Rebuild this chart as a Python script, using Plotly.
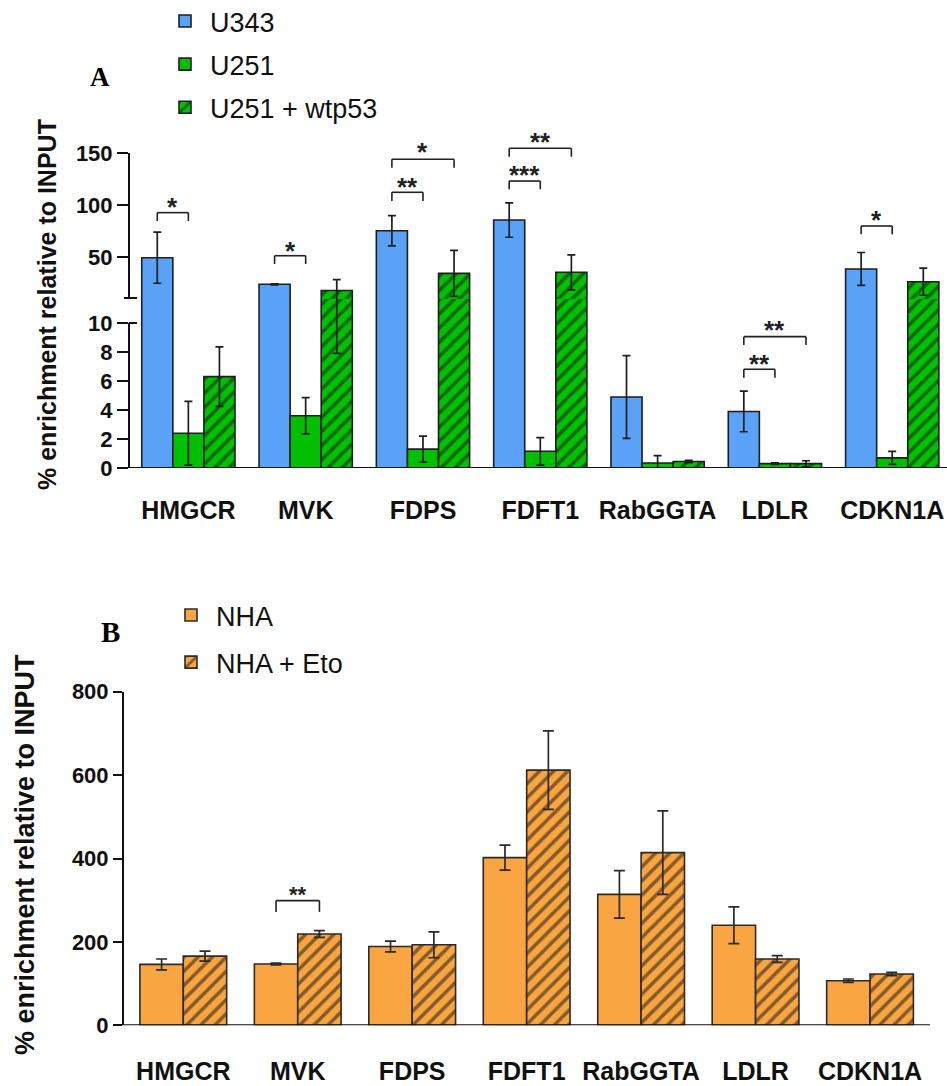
import plotly.graph_objects as go

# ---------------- data ----------------
genes = ["HMGCR", "MVK", "FDPS", "FDFT1", "RabGGTA", "LDLR", "CDKN1A"]

# Panel A (% enrichment relative to INPUT)
u343 = [49.6, 24.1, 75.5, 85.7, 4.9, 3.9, 38.8]
u343_err = [24.5, 0.5, 14.5, 16.5, 2.85, 1.4, 15.8]
u251 = [2.4, 3.6, 1.3, 1.15, 0.35, 0.3, 0.7]
u251_err = [2.2, 1.25, 0.9, 0.95, 0.5, 0.05, 0.45]
wtp53 = [6.3, 18.2, 34.6, 35.6, 0.45, 0.3, 26.6]
wtp53_err = [2.05, 10.3, 22.0, 16.8, 0.08, 0.2, 13.0]

# Panel B
nha = [146, 147, 189, 402, 314, 240, 107]
nha_err = [13, 2, 13, 30, 57, 44, 4]
eto = [166, 219, 193, 612, 414, 159, 123]
eto_err = [12, 8, 31, 94, 100, 8, 4]

# significance brackets: (gene index, from bar, to bar, top, leg end, label, label y, axis)
sig_a = [
    (0, 0, 1, 92.8, 84.8, "*", 102.0, "y"),
    (1, 0, 1, 51.5, 43.6, "*", 60.1, "y"),
    (2, 0, 1, 112.3, 104.0, "**", 121.0, "y"),
    (2, 0, 2, 144.0, 135.9, "*", 154.5, "y"),
    (3, 0, 1, 123.1, 115.2, "***", 132.7, "y"),
    (3, 0, 2, 154.5, 146.4, "**", 164.0, "y"),
    (5, 0, 1, 6.81, 6.23, "**", 7.45, "y2"),
    (5, 0, 2, 9.06, 8.48, "**", 9.81, "y2"),
    (6, 0, 1, 80.0, 72.0, "*", 89.6, "y"),
]
sig_b = [
    (1, 0, 1, 299, 272, "**", 324, "y3"),
]

# ---------------- styling ----------------
W, H = 947, 1086
def px_x(p):
    return p / W
def px_y(p):
    return 1 - p / H

FONT = "Liberation Sans, Arial, sans-serif"
BLUE = "#5aa2f8"
GREEN = "#00c000"
ORANGE = "#f9a541"
EDGE = "#1e1e1e"

wA = 0.265
wB = 0.379

fig = go.Figure()

def hatch():
    return dict(shape="/", fillmode="overlay", fgcolor="#111111", size=10, solidity=0.35)

seriesA = [
    ("U343", u343, u343_err, BLUE, None),
    ("U251", u251, u251_err, GREEN, None),
    ("U251 + wtp53", wtp53, wtp53_err, GREEN, hatch()),
]
for k, (name, vals, errs, col, pat) in enumerate(seriesA):
    for (xa, ya, show) in [("x", "y2", True), ("x2", "y", False)]:
        marker = dict(color=col, line=dict(color=EDGE, width=1.6))
        if pat:
            marker["pattern"] = pat
        fig.add_trace(go.Bar(
            x=genes, y=vals, name=name, xaxis=xa, yaxis=ya,
            width=wA, offset=(k - 1.5) * wA,
            marker=marker,
            error_y=dict(type="data", array=errs, visible=True, color=EDGE,
                         thickness=1.7, width=4),
            showlegend=show, legend="legend", legendgroup=name,
        ))

seriesB = [
    ("NHA", nha, nha_err, ORANGE, None),
    ("NHA + Eto", eto, eto_err, ORANGE, hatch()),
]
for k, (name, vals, errs, col, pat) in enumerate(seriesB):
    marker = dict(color=col, line=dict(color="#2a2a2a", width=1.6))
    if pat:
        marker["pattern"] = pat
    fig.add_trace(go.Bar(
        x=genes, y=vals, name=name, xaxis="x3", yaxis="y3",
        width=wB, offset=(k - 1.0) * wB,
        marker=marker,
        error_y=dict(type="data", array=errs, visible=True, color="#2a2a2a",
                     thickness=1.7, width=5.5),
        legend="legend2", legendgroup=name,
    ))

tickfont = dict(family=FONT, size=22, color="#111", weight="bold")
xtickfont = dict(family=FONT, size=25, color="#111", weight="bold")

common_y = dict(showgrid=False, zeroline=False, ticks="outside", tickwidth=2,
                tickcolor="#111", tickfont=tickfont, showline=False, fixedrange=True,
                automargin=False)
common_x = dict(showgrid=False, zeroline=False, showline=False, ticks="",
                tickfont=xtickfont, automargin=False, fixedrange=True)

fig.update_layout(
    template="none",
    width=W, height=H, margin=dict(l=0, r=0, t=0, b=0, pad=0, autoexpand=False),
    paper_bgcolor="white", plot_bgcolor="rgba(0,0,0,0)",
    barmode="overlay",
    font=dict(family=FONT, color="#111"),
    xaxis=dict(domain=[px_x(129), 1.0], range=[-0.506, 6.467], anchor="y2",
               ticklabelstandoff=25, **common_x),
    xaxis2=dict(domain=[px_x(129), 1.0], range=[-0.506, 6.467], anchor="y",
                visible=False, automargin=False),
    yaxis2=dict(domain=[px_y(468), px_y(299)], range=[0, (468 - 299) / 14.5],
                tickvals=[0, 2, 4, 6, 8, 10], ticklen=11, anchor="x", **common_y),
    yaxis=dict(domain=[px_y(299), px_y(120)], range=[10, 10 + 179 / 1.043],
               tickvals=[50, 100, 150], ticklen=11, anchor="x2", **common_y),
    xaxis3=dict(domain=[px_x(124), px_x(930)], range=[-0.518, 6.524], anchor="y3",
                ticklabelstandoff=29, **common_x),
    yaxis3=dict(domain=[px_y(1025.3), px_y(691.7)], range=[0, 800],
                tickvals=[0, 200, 400, 600, 800], ticklen=9, anchor="x3",
                **{**common_y, "showline": True, "linewidth": 2, "linecolor": "#111"}),
    legend=dict(x=px_x(160), y=px_y(-3), xanchor="left", yanchor="top",
                font=dict(family=FONT, size=27, color="#111"),
                bgcolor="rgba(0,0,0,0)", traceorder="grouped", tracegroupgap=5,
                itemwidth=40),
    legend2=dict(x=px_x(166), y=px_y(591), xanchor="left", yanchor="top",
                 font=dict(family=FONT, size=27, color="#111"),
                 bgcolor="rgba(0,0,0,0)", traceorder="grouped", tracegroupgap=9,
                 itemwidth=40),
)

shapes = []
LW = 2
# Panel A axis lines (broken axis)
shapes.append(dict(type="line", xref="paper", yref="y2", x0=px_x(129), x1=px_x(129),
                   y0=0, y1=10, line=dict(color="#111", width=LW)))
shapes.append(dict(type="line", xref="paper", yref="y", x0=px_x(129), x1=px_x(129),
                   y0=10.96, y1=150, line=dict(color="#111", width=LW)))
shapes.append(dict(type="line", xref="paper", yref="y2", x0=px_x(129), x1=px_x(137),
                   y0=10, y1=10, line=dict(color="#111", width=LW)))
shapes.append(dict(type="line", xref="paper", yref="y", x0=px_x(124), x1=px_x(137),
                   y0=10.96, y1=10.96, line=dict(color="#111", width=LW)))
shapes.append(dict(type="line", xref="paper", yref="y2", x0=px_x(118), x1=1.0,
                   y0=0, y1=0, line=dict(color="#111", width=LW)))
# Panel B baseline
shapes.append(dict(type="line", xref="paper", yref="y3", x0=px_x(115), x1=px_x(930),
                   y0=0, y1=0, line=dict(color="#111", width=LW)))

annotations = []
def add_brackets(sigs, xref, w, nbars, size):
    for gi, b0, b1, top, leg, lab, ty, yref in sigs:
        xa = gi + (b0 - (nbars - 1) / 2) * w
        xb = gi + (b1 - (nbars - 1) / 2) * w
        lc = dict(color="#222", width=1.6)
        shapes.append(dict(type="line", xref=xref, yref=yref, x0=xa, x1=xb, y0=top, y1=top, line=lc))
        shapes.append(dict(type="line", xref=xref, yref=yref, x0=xa, x1=xa, y0=top, y1=leg, line=lc))
        shapes.append(dict(type="line", xref=xref, yref=yref, x0=xb, x1=xb, y0=top, y1=leg, line=lc))
        annotations.append(dict(x=(xa + xb) / 2, y=ty, xref=xref, yref=yref, text=lab,
                                showarrow=False, xanchor="center", yanchor="middle", yshift=-4,
                                font=dict(family=FONT, size=size, color="#222", weight="bold")))

add_brackets(sig_a, "x", wA, 3, 26)
add_brackets(sig_b, "x3", wB, 2, 22)

SERIF = "Liberation Serif, Times New Roman, serif"
# panel letters
annotations.append(dict(x=px_x(99.5), y=px_y(77), xref="paper", yref="paper", text="A",
                        showarrow=False, xanchor="center", yanchor="middle",
                        font=dict(family=SERIF, size=27, color="#000", weight="bold")))
annotations.append(dict(x=px_x(110), y=px_y(632), xref="paper", yref="paper", text="B",
                        showarrow=False, xanchor="center", yanchor="middle",
                        font=dict(family=SERIF, size=29, color="#000", weight="bold")))
# y titles
annotations.append(dict(x=px_x(47), y=px_y(305), xref="paper", yref="paper",
                        text="% enrichment relative to INPUT", textangle=-90, showarrow=False,
                        xanchor="center", yanchor="middle",
                        font=dict(family=FONT, size=25, color="#111", weight="bold")))
annotations.append(dict(x=px_x(25), y=px_y(855), xref="paper", yref="paper",
                        text="% enrichment relative to INPUT", textangle=-90, showarrow=False,
                        xanchor="center", yanchor="middle",
                        font=dict(family=FONT, size=27, color="#111", weight="bold")))

fig.update_layout(shapes=shapes, annotations=annotations)
fig.write_html(
    "out.html",
    config={"displayModeBar": False, "staticPlot": True},
    post_script="document.body.style.margin='0';document.body.style.padding='0';",
)
